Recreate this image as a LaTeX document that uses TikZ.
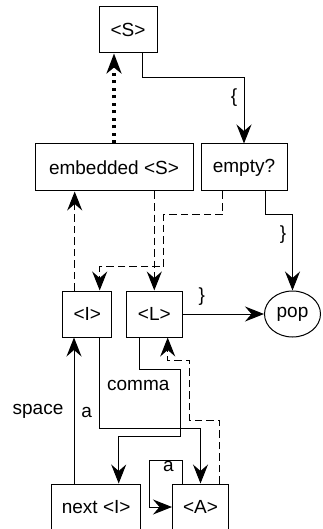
\documentclass[tikz,border=0pt]{standalone}
\usepackage{fontspec}
\setmainfont{Liberation Sans}
\usetikzlibrary{arrows.meta,shapes.geometric}
\begin{document}
\begin{tikzpicture}[x=1pt,y=-1pt,
  txt/.style={font=\fontsize{19}{22}\selectfont},
  box/.style={draw,line width=1pt,rectangle,inner sep=0pt,txt},
  lbl/.style={txt,inner sep=0pt},
  edge/.style={line width=1pt,-{Stealth[length=19pt,width=15pt,inset=6.5pt]}},
  dashline/.style={line width=1.3pt,dash pattern=on 7.5pt off 4pt},
  dotline/.style={line width=3.3pt,dash pattern=on 3pt off 4.5pt,-{Stealth[length=20pt,width=15pt,inset=6pt]}}
]
\useasboundingbox (0,0) rectangle (322,529);
\clip (0,0) rectangle (322,529);

\node[box,minimum width=58pt,minimum height=46pt] (S) at (128,30) {<S>};
\node[box,minimum width=158pt,minimum height=47pt] (emb) at (114,167.5) {embedded <S>};
\node[box,minimum width=86pt,minimum height=47pt] (empty) at (244,167.5) {empty?};
\node[box,minimum width=49pt,minimum height=46pt] (I) at (87.3,314) {<I>};
\node[box,minimum width=56pt,minimum height=46pt] (L) at (154.3,314) {<L>};
\node[draw,line width=1pt,ellipse,inner sep=0pt,minimum width=56pt,minimum height=46pt,txt] (pop) at (292.5,314) {pop};
\node[box,minimum width=89pt,minimum height=46pt] (next) at (96.2,507) {next <I>};
\node[box,minimum width=56pt,minimum height=46pt] (A) at (200.5,507) {<A>};

% <S> transitions
\draw[dotline] (emb.north) -- (emb.north |- S.south);
\draw[edge] ([xshift=14.7]S.south) -- ++(0,24.3) -| (empty.north);
\node[lbl] at (234,98) {\{};

% dashed returns
\draw[edge,dashline] ([xshift=-12.6]I.north) -- ([xshift=-12.6]I.north |- emb.south);
\draw[edge,dashline] (L.north |- emb.south) -- (L.north);
\draw[edge,dashline] ([xshift=-21.3]empty.south) |- (163.7,214.3) |- (99.7,266.7) -- ([xshift=12.4]I.north);

% empty? -> pop
\draw[edge] ([xshift=21]empty.south) -- ++(0,23.3) -| (pop.north);
\node[lbl] at (283,235) {\}};

% <L> -> pop
\draw[edge] (L.east) -- (pop.west);
\node[lbl] at (201.7,296.7) {\}};

% next <I> -> <I>
\draw[edge] ([xshift=-22.2]next.north) -- ([xshift=-22.2]next.north |- I.south);
\node[lbl] at (38,411) {space};

% <I> -> <A>
\draw[edge] ([xshift=12.4]I.south) -- ++(0,91.4) -| (A.north);
\node[lbl] at (86.7,412.7) {a};

% <L> -> next <I>
\draw[edge] ([xshift=-15.3]L.south) |- (180.3,369.3) |- (118.7,436.3) -- ([xshift=22.5]next.north);
\node[lbl] at (138.3,385.7) {comma};

% <A> -> <L> dashed
\draw[edge,dashline] ([xshift=19.2]A.north) |- (189.7,420.7) |- (167.7,360.7) -- ([xshift=13.4]L.south);

% <A> self loop
\draw[edge] ([xshift=-18.2]A.north) |- (149,460.3) |- (A.west);
\node[lbl] at (168.3,466.7) {a};
\end{tikzpicture}
\end{document}
